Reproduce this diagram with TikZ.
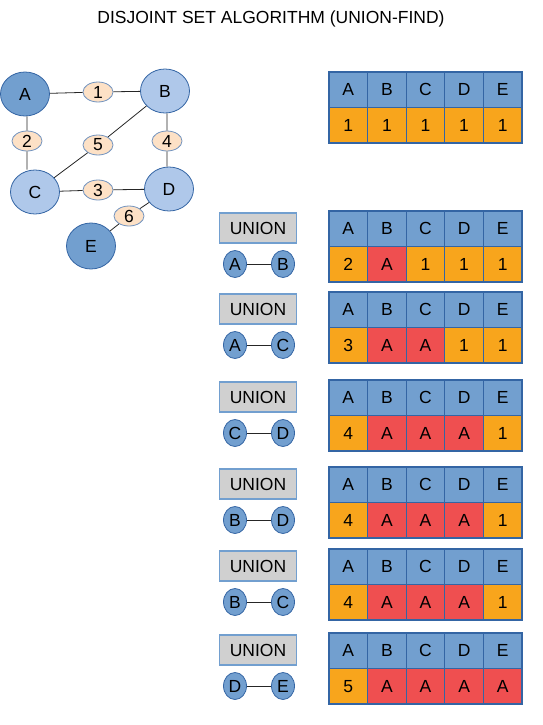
\documentclass[tikz,border=0pt]{standalone}
\usepackage{fontspec}
\setmainfont{Liberation Sans}
\usepackage{tikz}
\usetikzlibrary{shapes.geometric, positioning}
\definecolor{headblue}{HTML}{729FCF}
\definecolor{edgeblue}{HTML}{3465A4}
\definecolor{paleblue}{HTML}{AFC8EA}
\definecolor{rankorange}{HTML}{F8A51C}
\definecolor{rootred}{HTML}{EF4F50}
\definecolor{peach}{HTML}{FDE1C6}
\definecolor{greybox}{HTML}{D0D0D0}
\tikzset{
  every node/.style={font=\fontsize{17.5}{20}\selectfont},
  vertex/.style={ellipse, draw=edgeblue, line width=0.8pt, minimum width=49pt, minimum height=44pt, inner sep=0pt},
  darkvertex/.style={vertex, fill=headblue},
  lightvertex/.style={vertex, fill=paleblue},
  weight/.style={ellipse, draw=edgeblue!70, line width=0.8pt, fill=peach, minimum width=30pt, minimum height=20pt, inner sep=0pt},
  cell/.style={rectangle, draw=edgeblue, line width=1.2pt, minimum width=38.6pt, minimum height=35.5pt, inner sep=0pt},
  head/.style={cell, fill=headblue},
  rank/.style={cell, fill=rankorange},
  root/.style={cell, fill=rootred},
  unionbox/.style={rectangle, draw=headblue, line width=1.2pt, fill=greybox, minimum width=77pt, minimum height=30pt, inner sep=0pt},
  mini/.style={ellipse, draw=edgeblue, line width=0.8pt, fill=headblue, minimum width=23pt, minimum height=27pt, inner sep=0pt},
  link/.style={draw=black!85, line width=0.8pt}
}
\begin{document}
\begin{tikzpicture}[x=1pt, y=-1pt]
    \useasboundingbox (0,0) rectangle (542,725);
    \node (title) at (271,19) {DISJOINT SET ALGORITHM (UNION-FIND)};

    % graph
    \node[darkvertex] (A) at (25,94) {A};
    \node[lightvertex] (B) at (165,91) {B};
    \node[lightvertex] (C) at (35,192) {C};
    \node[lightvertex] (D) at (169,189) {D};
    \node[darkvertex, minimum height=46pt] (E) at (91,246) {E};

    \node[weight] (w1) at (98,92) {1};
    \node[weight] (w2) at (27,141) {2};
    \node[weight] (w3) at (98,190) {3};
    \node[weight] (w4) at (167,141) {4};
    \node[weight] (w5) at (98,145) {5};
    \node[weight] (w6) at (129,216) {6};

    \path[link]
    (A) -- (w1) -- (B)
    (A.south -| w2) -- (w2) -- (w2 |- C.north)
    (C) -- (w3) -- (D)
    (B.south -| w4) -- (w4) -- (w4 |- D.north)
    (B) -- (w5) -- (C)
    (D) -- (w6) -- (E)
    ;

    % parent / rank tables
    \foreach \r/\t/\vals in {
      1/72/{rank/1,rank/1,rank/1,rank/1,rank/1},
      2/211/{rank/2,root/A,rank/1,rank/1,rank/1},
      3/292/{rank/3,root/A,root/A,rank/1,rank/1},
      4/380/{rank/4,root/A,root/A,root/A,rank/1},
      5/467/{rank/4,root/A,root/A,root/A,rank/1},
      6/549/{rank/4,root/A,root/A,root/A,rank/1},
      7/633/{rank/5,root/A,root/A,root/A,root/A}} {
      \foreach \h [count=\c] in {A,B,C,D,E}
        \node[head] (h\r-\c) at (309.7+38.6*\c, \t+17.75) {\h};
      \foreach \s/\v [count=\c] in \vals
        \node[\s] (v\r-\c) at (309.7+38.6*\c, \t+53.25) {\v};
    }

    % union steps
    \foreach \r/\t/\a/\b in {2/211/A/B, 3/292/A/C, 4/380/C/D,
                             5/467/B/D, 6/549/B/C, 7/633/D/E} {
      \node[unionbox] (u\r) at (258,\t+17) {UNION};
      \node[mini] (m\r-a) at (235,\t+53) {\a};
      \node[mini] (m\r-b) at (283,\t+53) {\b};
      \draw[link] (m\r-a) -- (m\r-b);
    }
\end{tikzpicture}
\end{document}
